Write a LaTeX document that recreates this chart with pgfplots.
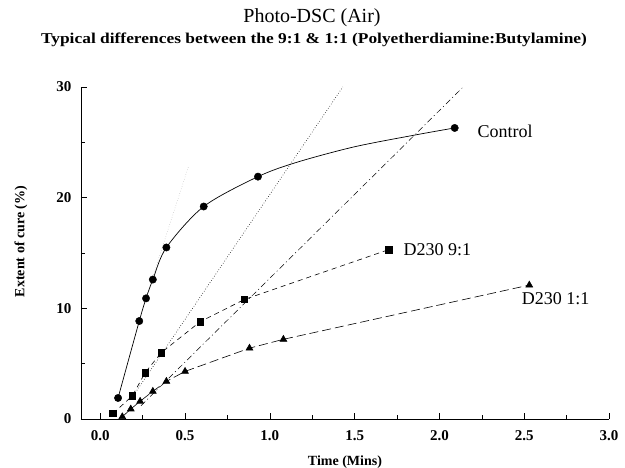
\documentclass[border=0pt]{standalone}
\usepackage{pgfplots}
\pgfplotsset{compat=1.18}
\usepackage{fontspec}
\setmainfont{Liberation Serif}
\begin{document}
\begin{tikzpicture}[x=1pt,y=1pt]
\path[use as bounding box] (0,0) rectangle (625,468);
\node[font=\fontsize{20}{23}\selectfont] at (312,450) {Photo-DSC (Air)};
\node[font=\fontsize{15}{17}\selectfont\bfseries] at (314,428) {\scalebox{1.16}[1]{Typical differences between the 9:1 \& 1:1 (Polyetherdiamine:Butylamine)}};
\begin{axis}[
  at={(81pt,49pt)}, anchor=south west,
  scale only axis, width=528pt, height=332pt,
  xmin=-0.1136, xmax=3.0, ymin=0, ymax=30,
  axis lines=left, axis line style={-, line width=0.8pt},
  tick align=inside,
  xtick={0,0.5,1,1.5,2,2.5,3},
  xticklabels={0.0,0.5,1.0,1.5,2.0,2.5,3.0},
  minor xtick={0.25,0.75,1.25,1.75,2.25,2.75},
  ytick={0,10,20,30},
  minor ytick={5,15,25},
  major tick length=6pt, minor tick length=4pt,
  tick style={black, line width=0.6pt},
  /pgf/number format/assume math mode=true,
  ticklabel style={font=\fontsize{15}{17}\selectfont\bfseries},
  xticklabel style={yshift=-8pt},
  yticklabel style={xshift=-6pt},
  xlabel={Time (Mins)},
  ylabel={Extent of cure (\%)},
  xlabel style={at={(axis description cs:0.5,0)}, anchor=center, yshift=-43pt},
  ylabel style={at={(axis description cs:0,0.535)}, anchor=center, rotate=0, yshift=60pt},
  label style={font=\fontsize{14}{16}\selectfont\bfseries},
  clip=false,
]
% tangent lines
\addplot[gray!60, dotted, line width=0.5pt] coordinates {(0.30,12.4) (0.52,22.8)};
\addplot[black, dotted, line width=0.6pt] coordinates {(0.19,2.0) (1.43,30)};
\addplot[black, dash pattern=on 6pt off 3pt on 1pt off 3pt, line width=0.5pt] coordinates {(0.24,1.2) (2.14,30)};
% Control curve
\addplot[black, line width=0.7pt, smooth, tension=0.5] coordinates {
(0.105,1.9) (0.23,8.85) (0.27,10.9) (0.31,12.6) (0.39,15.5) (0.61,19.2) (0.93,21.9) (1.16,23.2) (1.5,24.6) (1.87,25.7) (2.09,26.3)};
% Control markers
\addplot[black, only marks, mark=*, mark size=3.7pt] coordinates {
(0.105,1.9) (0.23,8.85) (0.27,10.9) (0.31,12.6) (0.39,15.5) (0.61,19.2) (0.93,21.9) (2.09,26.3)};
% D230 9:1
\addplot[black, line width=0.6pt, dash pattern=on 5pt off 4pt, mark=square*, mark size=3.3pt, mark options={solid}] coordinates {
(0.075,0.5) (0.19,2.1) (0.265,4.2) (0.36,6.0) (0.59,8.8) (0.85,10.8) (1.70,15.3)};
% D230 1:1
\addplot[black, line width=0.6pt, dash pattern=on 9pt off 4pt, mark=triangle*, mark size=3.9pt, mark options={solid}] coordinates {
(0.13,0.2) (0.18,0.9) (0.235,1.6) (0.31,2.5) (0.39,3.4) (0.5,4.3) (0.88,6.4) (1.08,7.2) (2.53,12.1)};
\node[anchor=west, font=\fontsize{18}{20}\selectfont] at (axis cs:2.205,26.0) {Control};
\node[anchor=west, font=\fontsize{18}{20}\selectfont] at (axis cs:1.768,15.27) {D230 9:1};
\node[anchor=west, font=\fontsize{18}{20}\selectfont] at (axis cs:2.465,10.84) {D230 1:1};
\end{axis}
\end{tikzpicture}
\end{document}
